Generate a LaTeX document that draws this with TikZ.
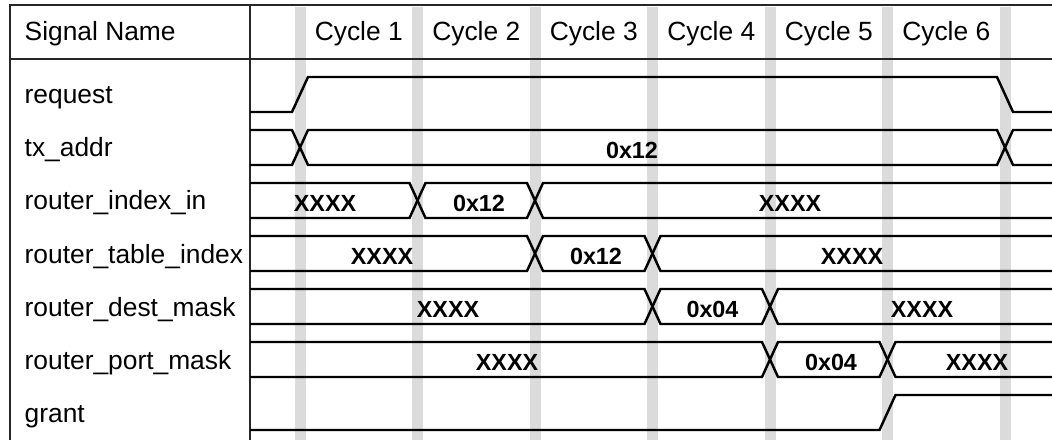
\documentclass[tikz,border=0pt]{standalone}
\usepackage{fontspec}
\setmainfont{Liberation Sans}
\usepackage{tikz}

\tikzset{
  frame/.style={line width=0.85pt, black!85},
  wave/.style={line width=1.4pt, line join=miter},
  clk/.style={fill=black!14},
  signame/.style={anchor=base west, font=\fontsize{15}{18}\selectfont},
  cyclab/.style={anchor=base, font=\fontsize{15}{18}\selectfont},
  val/.style={anchor=base, font=\fontsize{13.3}{16}\selectfont\bfseries}
}

\begin{document}
\begin{tikzpicture}
\useasboundingbox (0,0) rectangle (21.04,8.8);
% clock edges
\fill[clk] (5.89,0) rectangle (6.11,8.66);
\fill[clk] (8.24,0) rectangle (8.46,8.66);
\fill[clk] (10.59,0) rectangle (10.81,8.66);
\fill[clk] (12.94,0) rectangle (13.16,8.66);
\fill[clk] (15.29,0) rectangle (15.51,8.66);
\fill[clk] (17.64,0) rectangle (17.86,8.66);
\fill[clk] (19.99,0) rectangle (20.21,8.66);
% table frame
\draw[frame] (0.2,0) -- (0.2,8.7) -- (21.04,8.7);
\draw[frame] (5,0) -- (5,8.7);
\draw[frame] (0.2,7.62) -- (21.04,7.62);
% header
\node[signame] (hdr) at (0.37,7.98) {Signal Name};
\node[cyclab] (cyc1) at (7.175,7.98) {Cycle 1};
\node[cyclab] (cyc2) at (9.525,7.98) {Cycle 2};
\node[cyclab] (cyc3) at (11.875,7.98) {Cycle 3};
\node[cyclab] (cyc4) at (14.225,7.98) {Cycle 4};
\node[cyclab] (cyc5) at (16.575,7.98) {Cycle 5};
\node[cyclab] (cyc6) at (18.925,7.98) {Cycle 6};
% signal names
\node[signame] (request) at (0.37,6.72) {request};
\node[signame] (txaddr) at (0.37,5.66) {tx\_addr};
\node[signame] (idxin) at (0.37,4.60) {router\_index\_in};
\node[signame] (tblidx) at (0.37,3.54) {router\_table\_index};
\node[signame] (destmask) at (0.37,2.48) {router\_dest\_mask};
\node[signame] (portmask) at (0.37,1.42) {router\_port\_mask};
\node[signame] (grant) at (0.37,0.36) {grant};
% request
\draw[wave] (5,6.56) -- (5.84,6.56) -- (6.16,7.26) -- (19.94,7.26) -- (20.26,6.56) -- (21.04,6.56);
% tx_addr
\draw[wave] (5,6.2) -- (5.84,6.2) -- (6.16,5.5) -- (19.94,5.5) -- (20.26,6.2) -- (21.04,6.2);
\draw[wave] (5,5.5) -- (5.84,5.5) -- (6.16,6.2) -- (19.94,6.2) -- (20.26,5.5) -- (21.04,5.5);
\node[val] (txv1) at (12.64,5.63) {0x12};
% router_index_in
\draw[wave] (5,5.14) -- (8.19,5.14) -- (8.51,4.44) -- (10.54,4.44) -- (10.86,5.14) -- (21.04,5.14);
\draw[wave] (5,4.44) -- (8.19,4.44) -- (8.51,5.14) -- (10.54,5.14) -- (10.86,4.44) -- (21.04,4.44);
\node[val] (inv1) at (6.5,4.57) {XXXX};
\node[val] (inv2) at (9.58,4.57) {0x12};
\node[val] (inv3) at (15.8,4.57) {XXXX};
% router_table_index
\draw[wave] (5,4.08) -- (10.54,4.08) -- (10.86,3.38) -- (12.89,3.38) -- (13.21,4.08) -- (21.04,4.08);
\draw[wave] (5,3.38) -- (10.54,3.38) -- (10.86,4.08) -- (12.89,4.08) -- (13.21,3.38) -- (21.04,3.38);
\node[val] (tbv1) at (7.64,3.51) {XXXX};
\node[val] (tbv2) at (11.92,3.51) {0x12};
\node[val] (tbv3) at (17.04,3.51) {XXXX};
% router_dest_mask
\draw[wave] (5,3.02) -- (12.89,3.02) -- (13.21,2.32) -- (15.24,2.32) -- (15.56,3.02) -- (21.04,3.02);
\draw[wave] (5,2.32) -- (12.89,2.32) -- (13.21,3.02) -- (15.24,3.02) -- (15.56,2.32) -- (21.04,2.32);
\node[val] (dmv1) at (8.96,2.45) {XXXX};
\node[val] (dmv2) at (14.25,2.45) {0x04};
\node[val] (dmv3) at (18.44,2.45) {XXXX};
% router_port_mask
\draw[wave] (5,1.96) -- (15.24,1.96) -- (15.56,1.26) -- (17.59,1.26) -- (17.91,1.96) -- (21.04,1.96);
\draw[wave] (5,1.26) -- (15.24,1.26) -- (15.56,1.96) -- (17.59,1.96) -- (17.91,1.26) -- (21.04,1.26);
\node[val] (pmv1) at (10.14,1.39) {XXXX};
\node[val] (pmv2) at (16.62,1.39) {0x04};
\node[val] (pmv3) at (19.54,1.39) {XXXX};
% grant
\draw[wave] (5,0.2) -- (17.59,0.2) -- (17.91,0.9) -- (21.04,0.9);
\end{tikzpicture}
\end{document}
